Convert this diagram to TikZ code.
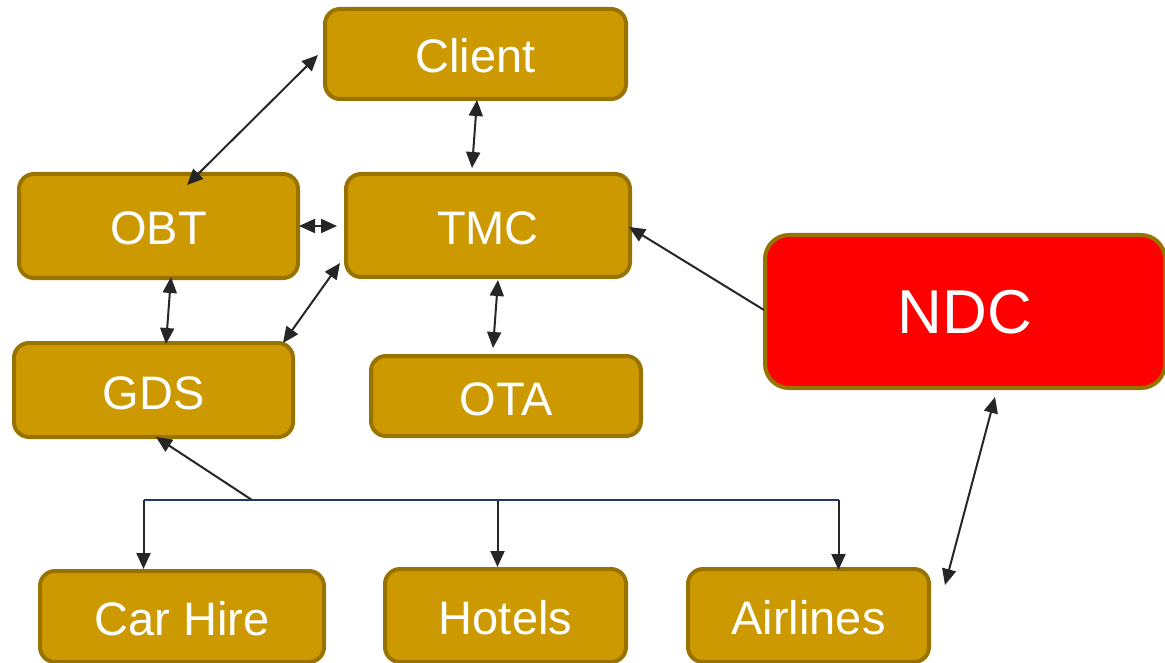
\documentclass[tikz,border=0pt]{standalone}
\usepackage{fontspec}
\setmainfont{Liberation Sans}
\usetikzlibrary{arrows.meta,calc}
\definecolor{gold}{RGB}{204,153,0}
\definecolor{goldedge}{RGB}{153,115,0}
\definecolor{ndcred}{RGB}{255,0,0}
\definecolor{arrowgray}{RGB}{38,38,38}
\definecolor{busblue}{RGB}{31,56,100}
\begin{document}
\begin{tikzpicture}[x=1pt,y=-1pt,
  box/.style={draw=goldedge, line width=4pt, fill=gold, rounded corners=15pt,
    text=white, font=\fontsize{47}{50}\selectfont, text height=38pt, text depth=0pt,
    inner sep=0pt, outer sep=0pt, align=center},
  redbox/.style={box, fill=ndcred, rounded corners=24pt,
    font=\fontsize{62}{66}\selectfont, text height=43pt},
  tip/.tip={Triangle[length=16pt,width=14pt]},
  arr/.style={draw=arrowgray, line width=2pt, -tip},
  darr/.style={draw=arrowgray, line width=2pt, tip-tip},
  bus/.style={draw=busblue, line width=2pt},
  stem/.style={draw=arrowgray, line width=2pt, -tip}]
\useasboundingbox (0,0) rectangle (1165,663);
\clip (0,0) rectangle (1165,663);

% nodes
\node[box, minimum width=301pt, minimum height=90pt]  (client)   at (475.5,54)    {Client};
\node[box, minimum width=279pt, minimum height=104pt] (obt)      at (158.5,226)   {OBT};
\node[box, minimum width=284pt, minimum height=103pt] (tmc)      at (488,225.5)   {TMC};
\node[box, minimum width=279pt, minimum height=94pt]  (gds)      at (153.5,390)   {GDS};
\node[box, minimum width=270pt, minimum height=80pt]  (ota)      at (506,396)     {OTA};
\node[redbox, minimum width=400pt, minimum height=153pt] (ndc)   at (965,311.5)   {NDC};
\node[box, minimum width=284pt, minimum height=91pt]  (carhire)  at (182,616.5)   {Car Hire};
\node[box, minimum width=241pt, minimum height=93pt]  (hotels)   at (505.5,615.5) {Hotels};
\node[box, minimum width=241pt, minimum height=93pt]  (airlines) at (808.5,615.5) {Airlines};

% connectors
\draw[darr] ([xshift=-7pt,yshift=-1pt]client.west) -- ([xshift=28.5pt,yshift=-11pt]obt.north);
\draw[darr] ([xshift=1.5pt,yshift=-1pt]client.south) -- ([xshift=-16pt,yshift=6pt]tmc.north);
\draw[darr] ([xshift=1pt]obt.east) -- ([xshift=-9pt,yshift=-0.5pt]tmc.west);
\draw[darr] ([xshift=12.5pt,yshift=1pt]obt.south) -- ([xshift=12.5pt,yshift=-1pt]gds.north);
\draw[darr] ([xshift=-10pt]gds.north east) -- ([xshift=-6pt,yshift=14pt]tmc.south west);
\draw[darr] ([xshift=10pt,yshift=-3pt]tmc.south) -- ([xshift=-13pt,yshift=8pt]ota.north);
\draw[arr]  ([xshift=-1pt,yshift=1.5pt]ndc.west) -- ([xshift=-1pt,yshift=-1.5pt]tmc.east);
\draw[darr] ([xshift=30pt,yshift=-9pt]ndc.south) -- ([xshift=16pt,yshift=-16pt]airlines.north east);

% supplier bus
\coordinate (busL) at (143.5,500);
\coordinate (busG) at (252,500);
\coordinate (busH) at (497.5,500);
\coordinate (busR) at (838.5,500);
\draw[stem] (busG) -- ([xshift=2.5pt]gds.south);
\draw[stem] (busL) -- ($(busL |- carhire.north)+(0,-2)$);
\draw[stem] (busH) -- ($(busH |- hotels.north)+(0,-2)$);
\draw[stem] (busR) -- ($(busR |- airlines.north)+(0,1)$);
\draw[bus] (busL) -- (busR);
\end{tikzpicture}
\end{document}
